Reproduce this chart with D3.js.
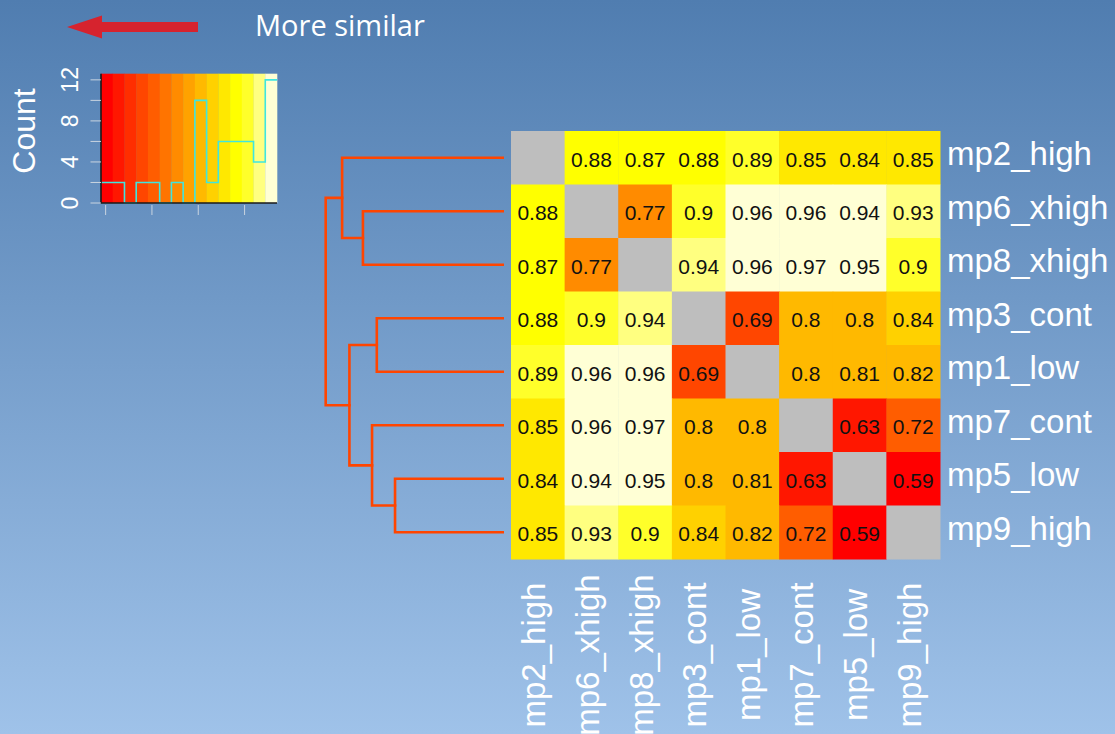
<!DOCTYPE html>
<html>
<head>
<meta charset="utf-8">
<script src="https://cdn.jsdelivr.net/npm/d3@7"></script>
<style>
  html, body { margin: 0; padding: 0; overflow: hidden; }
  svg { display: block; }
</style>
</head>
<body>
<svg id="chart" width="1115" height="734"></svg>
<script>
// Samples in dendrogram (display) order
const samples = ["mp2_high", "mp6_xhigh", "mp8_xhigh", "mp3_cont", "mp1_low", "mp7_cont", "mp5_low", "mp9_high"];

// Pairwise distances, one row per sample, columns in the same order (diagonal empty)
const dist_mp2_high  = [null,   0.88,   0.87,  0.88,  0.8945, 0.85,  0.844,  0.85];
const dist_mp6_xhigh = [0.88,   null,   0.766, 0.90,  0.96,   0.96,  0.9449, 0.93];
const dist_mp8_xhigh = [0.87,   0.766,  null,  0.94,  0.96,   0.97,  0.95,   0.90];
const dist_mp3_cont  = [0.88,   0.90,   0.94,  null,  0.69,   0.80,  0.80,   0.84];
const dist_mp1_low   = [0.8945, 0.96,   0.96,  0.69,  null,   0.80,  0.81,   0.817];
const dist_mp7_cont  = [0.85,   0.96,   0.97,  0.80,  0.80,   null,  0.63,   0.716];
const dist_mp5_low   = [0.844,  0.9449, 0.95,  0.80,  0.81,   0.63,  null,   0.59];
const dist_mp9_high  = [0.85,   0.93,   0.90,  0.84,  0.817,  0.716, 0.59,   null];
const distances = [dist_mp2_high, dist_mp6_xhigh, dist_mp8_xhigh, dist_mp3_cont,
                   dist_mp1_low, dist_mp7_cont, dist_mp5_low, dist_mp9_high];

// Cluster tree (complete linkage); merge heights are taken from the distances
const tree = [["mp2_high", ["mp6_xhigh", "mp8_xhigh"]],
              [["mp3_cont", "mp1_low"], ["mp7_cont", ["mp5_low", "mp9_high"]]]];

// 15-step heat palette, red (small distance) to pale yellow (large distance)
const heatPalette = ["#FF0000", "#FF1700", "#FF2E00", "#FF4600", "#FF5D00", "#FF7400", "#FF8B00",
                     "#FFA200", "#FFB900", "#FFD100", "#FFE800", "#FFFF00", "#FFFF2A", "#FFFF80", "#FFFFD5"];

const countTicks = [0, 2, 4, 6, 8, 10, 12];
const countLabels = [0, 4, 8, 12];
const valueTicks = [0.6, 0.7, 0.8, 0.9];
const keyTitle = "Count";
const arrowTitle = "More similar";

const svg = d3.select("#chart");
const W = 1115, H = 734;

// background
const defs = svg.append("defs");
const grad = defs.append("linearGradient").attr("id", "bg").attr("x1", 0).attr("y1", 0).attr("x2", 0).attr("y2", 1);
grad.append("stop").attr("offset", "0%").attr("stop-color", "#507db0");
grad.append("stop").attr("offset", "100%").attr("stop-color", "#9fc2e9");
svg.append("rect").attr("width", W).attr("height", H).attr("fill", "url(#bg)");

// flat list of off-diagonal values
const allVals = [];
distances.forEach(row => row.forEach(v => { if (v != null) allVals.push(v); }));
const lo = d3.min(allVals), hi = d3.max(allVals);

const color = d3.scaleQuantize().domain([lo, hi]).range(heatPalette);
const breaks = [lo, ...color.thresholds(), hi];

// ---------- heatmap ----------
const xCell = d3.scaleBand().domain(samples).range([511, 940]);
const yCell = d3.scaleBand().domain(samples).range([131, 559]);
const fmt = v => String(+v.toFixed(2));

const cells = [];
distances.forEach((row, i) => row.forEach((v, j) => cells.push({ r: samples[i], c: samples[j], v })));

const gHeat = svg.append("g");
gHeat.selectAll("rect").data(cells).join("rect")
  .attr("x", d => xCell(d.c))
  .attr("y", d => yCell(d.r))
  .attr("width", xCell.bandwidth() + 0.5)
  .attr("height", yCell.bandwidth() + 0.5)
  .attr("fill", d => d.v == null ? "#BEBEBE" : color(d.v));

gHeat.selectAll("text").data(cells.filter(d => d.v != null)).join("text")
  .attr("x", d => xCell(d.c) + xCell.bandwidth() / 2)
  .attr("y", d => yCell(d.r) + yCell.bandwidth() / 2)
  .attr("dy", 9)
  .attr("text-anchor", "middle")
  .attr("font-family", "'Liberation Sans', Arial, sans-serif")
  .attr("font-size", 21)
  .attr("fill", "#111")
  .text(d => fmt(d.v));

// row labels
svg.append("g").selectAll("text").data(samples).join("text")
  .attr("x", 947)
  .attr("y", d => yCell(d) + yCell.bandwidth() / 2)
  .attr("dy", 7.5)
  .attr("font-family", "'Liberation Sans', Arial, sans-serif")
  .attr("font-size", 33)
  .attr("fill", "#fff")
  .text(d => d);

// column labels
svg.append("g").selectAll("text").data(samples).join("text")
  .attr("transform", d => `translate(${xCell(d) + xCell.bandwidth() / 2 + 7.5},655) rotate(-90)`)
  .attr("text-anchor", "middle")
  .attr("font-family", "'Liberation Sans', Arial, sans-serif")
  .attr("font-size", 33)
  .attr("fill", "#fff")
  .text(d => d);

// ---------- row dendrogram ----------
const idx = Object.fromEntries(samples.map((s, i) => [s, i]));
function layout(node) {
  if (typeof node === "string") {
    return { y: yCell(node) + yCell.bandwidth() / 2, h: 0, leaves: [node] };
  }
  const a = layout(node[0]), b = layout(node[1]);
  let h = 0;
  a.leaves.forEach(p => b.leaves.forEach(q => { h = Math.max(h, distances[idx[p]][idx[q]]); }));
  return { y: (a.y + b.y) / 2, h, leaves: a.leaves.concat(b.leaves), kids: [a, b] };
}
const root = layout(tree);
const xDen = d3.scaleLinear().domain([0, root.h]).range([502.7, 325.7]);

const gDen = svg.append("g").attr("fill", "none").attr("stroke", "#ff4500")
  .attr("stroke-width", 2.6).attr("stroke-linejoin", "miter").attr("stroke-linecap", "square");
(function drawNode(n) {
  if (!n.kids) return;
  const [a, b] = n.kids;
  const p = d3.path();
  p.moveTo(xDen(a.h), a.y);
  p.lineTo(xDen(n.h), a.y);
  p.lineTo(xDen(n.h), b.y);
  p.lineTo(xDen(b.h), b.y);
  gDen.append("path").attr("d", p.toString());
  drawNode(a); drawNode(b);
})(root);

// ---------- colour key with histogram ----------
const counts = heatPalette.map(() => 0);
allVals.forEach(v => { counts[heatPalette.indexOf(color(v))] += 1; });

const xKey = d3.scaleLinear().domain([lo, hi]).range([101, 277]);
const yKey = d3.scaleLinear().domain([0, d3.max(counts) * 1.05]).range([203, 73.7]);

const gKey = svg.append("g");
gKey.selectAll("rect").data(heatPalette).join("rect")
  .attr("x", (d, i) => xKey(breaks[i]))
  .attr("y", yKey.range()[1])
  .attr("width", (d, i) => xKey(breaks[i + 1]) - xKey(breaks[i]) + 0.3)
  .attr("height", yKey.range()[0] - yKey.range()[1])
  .attr("fill", d => d);

const stepPts = counts.map((c, i) => [breaks[i], c]).concat([[hi, counts[counts.length - 1]]]);
gKey.append("path")
  .attr("d", d3.line().x(d => xKey(d[0])).y(d => yKey(d[1])).curve(d3.curveStepAfter)(stepPts))
  .attr("fill", "none").attr("stroke", "#3fe6e0").attr("stroke-width", 1.6);

// key frame (left + bottom)
gKey.append("path")
  .attr("d", `M${xKey(lo)},${yKey.range()[1]}V${yKey(0)}H${xKey(hi)}`)
  .attr("fill", "none").attr("stroke", "#1a1a1a").attr("stroke-width", 1.6);

// count axis
gKey.selectAll("line.yt").data(countTicks).join("line").attr("class", "yt")
  .attr("x1", 90.5).attr("x2", 101).attr("y1", d => yKey(d)).attr("y2", d => yKey(d))
  .attr("stroke", "#c9d4e0").attr("stroke-width", 1);
gKey.selectAll("text.yl").data(countLabels).join("text").attr("class", "yl")
  .attr("transform", d => `translate(78,${yKey(d)}) rotate(-90)`)
  .attr("text-anchor", "middle")
  .attr("font-family", "'Liberation Sans', Arial, sans-serif")
  .attr("font-size", 23)
  .attr("fill", "#fff")
  .text(d => d);
gKey.append("text")
  .attr("transform", `translate(35,131) rotate(-90)`)
  .attr("text-anchor", "middle")
  .attr("font-family", "'Liberation Sans', Arial, sans-serif")
  .attr("font-size", 32)
  .attr("fill", "#fff")
  .text(keyTitle);

// value axis ticks
gKey.selectAll("line.xt").data(valueTicks).join("line").attr("class", "xt")
  .attr("x1", d => xKey(d)).attr("x2", d => xKey(d)).attr("y1", 205).attr("y2", 215)
  .attr("stroke", "#c9d4e0").attr("stroke-width", 1);

// ---------- direction arrow ----------
svg.append("path")
  .attr("d", "M67,27 L102,15.5 L102,22 L198,22 L198,32 L102,32 L102,38.5 Z")
  .attr("fill", "#d6232e");
svg.append("text")
  .attr("x", 255).attr("y", 36)
  .attr("font-family", "'Open Sans', sans-serif")
  .attr("font-size", 29)
  .attr("fill", "#fff")
  .text(arrowTitle);
</script>
</body>
</html>
